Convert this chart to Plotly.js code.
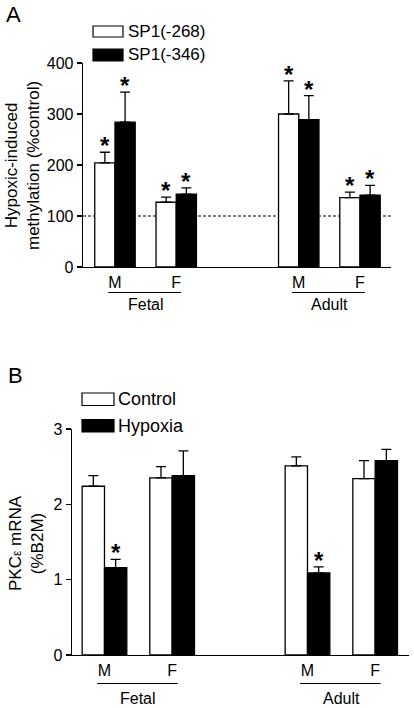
<!DOCTYPE html>
<html>
<head>
<meta charset="utf-8">
<script src="https://cdn.plot.ly/plotly-3.0.1.min.js"></script>
<style>html,body{margin:0;padding:0;background:#fff;}#chart{width:414px;height:708px;}</style>
</head>
<body>
<div id="chart"></div>
<script>
// ---- data ----
var positions = [0, 1, 3, 4];
var sexLabels = ['M', 'F', 'M', 'F'];
var groupLabels = ['Fetal', 'Adult'];

// Panel A: hypoxic-induced methylation (%control)
var seriesA = ['SP1(-268)', 'SP1(-346)'];
var sp268 = [204, 127, 300, 136];
var sp268Err = [21, 10, 65, 11];
var sp346 = [284, 143, 289, 141];
var sp346Err = [59, 12, 47, 19];
var sigA268 = [true, true, true, true];
var sigA346 = [true, true, true, true];
var refLineA = 100;

// Panel B: PKCe mRNA (%B2M)
var seriesB = ['Control', 'Hypoxia'];
var control = [2.24, 2.35, 2.51, 2.34];
var controlErr = [0.14, 0.15, 0.12, 0.24];
var hypoxia = [1.16, 2.38, 1.09, 2.58];
var hypoxiaErr = [0.11, 0.33, 0.08, 0.15];
var sigCtrl = [false, false, false, false];
var sigHyp = [true, false, true, false];

// ---- helpers ----
var W = 414, H = 708;
function px(x) { return x / W; }
function py(y) { return 1 - y / H; }
var FONT = 'Liberation Sans, Arial, Helvetica, sans-serif';
var BW = 0.33;

function zeros(a) { return a.map(function () { return 0; }); }
function barTrace(name, y, err, white, xa, ya, offset) {
  return {
    type: 'bar', name: name, x: positions, y: y, xaxis: xa, yaxis: ya,
    width: BW, offset: offset,
    marker: { color: white ? '#ffffff' : '#000000', line: { color: '#000', width: 1.3 } },
    error_y: { type: 'data', symmetric: false, array: err, arrayminus: zeros(err),
               color: '#000', thickness: 1.3, width: 5 },
    showlegend: false, hoverinfo: 'skip'
  };
}

var data = [
  barTrace(seriesA[0], sp268, sp268Err, true, 'x', 'y', -BW),
  barTrace(seriesA[1], sp346, sp346Err, false, 'x', 'y', 0),
  barTrace(seriesB[0], control, controlErr, true, 'x2', 'y2', -BW),
  barTrace(seriesB[1], hypoxia, hypoxiaErr, false, 'x2', 'y2', 0)
];

var annotations = [];
var shapes = [];

function stars(vals, errs, sig, dx, xr, yr) {
  for (var i = 0; i < vals.length; i++) {
    if (!sig[i]) continue;
    annotations.push({ x: positions[i] + dx, y: vals[i] + errs[i], xref: xr, yref: yr,
      text: '<b>*</b>', showarrow: false, yanchor: 'bottom', xanchor: 'center', yshift: -9,
      font: { family: FONT, size: 24, color: '#000' } });
  }
}
stars(sp268, sp268Err, sigA268, -BW / 2, 'x', 'y');
stars(sp346, sp346Err, sigA346, BW / 2, 'x', 'y');
stars(control, controlErr, sigCtrl, -BW / 2, 'x2', 'y2');
stars(hypoxia, hypoxiaErr, sigHyp, BW / 2, 'x2', 'y2');

// group brackets + labels
function groups(xr, lineY, labelY) {
  for (var g = 0; g < groupLabels.length; g++) {
    var a = positions[2 * g], b = positions[2 * g + 1];
    shapes.push({ type: 'line', xref: xr, yref: 'paper', x0: a - 0.11, x1: b + 0.08,
      y0: py(lineY), y1: py(lineY), line: { color: '#000', width: 1.2 } });
    annotations.push({ x: (a + b) / 2, y: py(labelY), xref: xr, yref: 'paper', text: groupLabels[g],
      showarrow: false, xanchor: 'center', yanchor: 'middle', font: { family: FONT, size: 16, color: '#000' } });
  }
}
groups('x', 292.5, 304);
groups('x2', 683.5, 698);

// legends
function legend(names, x0, x1, boxes, textX, fs) {
  for (var i = 0; i < names.length; i++) {
    var b = boxes[i];
    shapes.push({ type: 'rect', xref: 'paper', yref: 'paper', x0: px(x0), x1: px(x1),
      y0: py(b[1]), y1: py(b[0]), fillcolor: i === 0 ? '#fff' : '#000', line: { color: '#000', width: 1.2 } });
    annotations.push({ x: px(textX), y: py((b[0] + b[1]) / 2), xref: 'paper', yref: 'paper',
      text: names[i], showarrow: false, xanchor: 'left', yanchor: 'middle',
      font: { family: FONT, size: fs, color: '#000' } });
  }
}
legend(seriesA, 93, 123, [[26, 37], [49, 61]], 126, 17);
legend(seriesB, 82, 114, [[393, 405.5], [419.5, 432]], 116, 18);

// reference line (drawn beneath the bars)
shapes.push({ type: 'line', layer: 'below', xref: 'x domain', yref: 'y', x0: 0, x1: 1, y0: refLineA, y1: refLineA,
  line: { color: '#000', width: 1.1, dash: '3px,2px' } });

// y titles and panel letters
annotations.push({ x: px(22), y: py(166), xref: 'paper', yref: 'paper', textangle: -90,
  xanchor: 'center', yanchor: 'middle',
  text: 'Hypoxic-induced<br>methylation (%control)', showarrow: false,
  font: { family: FONT, size: 17, color: '#000' } });
annotations.push({ x: px(26), y: py(543), xref: 'paper', yref: 'paper', textangle: -90,
  xanchor: 'center', yanchor: 'middle',
  text: 'PKC<span style="font-size:12px">ε</span> mRNA<br>(%B2M)', showarrow: false,
  font: { family: FONT, size: 17, color: '#000' } });
annotations.push({ x: px(4), y: py(15), xref: 'paper', yref: 'paper', text: 'A', showarrow: false,
  xanchor: 'left', yanchor: 'middle', font: { family: FONT, size: 22, color: '#000' } });
annotations.push({ x: px(6), y: py(375), xref: 'paper', yref: 'paper', text: 'B', showarrow: false,
  xanchor: 'left', yanchor: 'middle', font: { family: FONT, size: 22, color: '#000' } });

var xCommon = { tickmode: 'array', tickvals: positions, ticktext: sexLabels, ticks: '',
  showline: true, linecolor: '#000', linewidth: 1.3, showgrid: false, zeroline: false,
  tickfont: { family: FONT, size: 16, color: '#000' }, fixedrange: true };
var yCommon = { ticks: 'outside', ticklen: 5, tickwidth: 1.3, tickcolor: '#000',
  showline: true, linecolor: '#000', linewidth: 1.3, showgrid: false, zeroline: false,
  tickfont: { family: FONT, size: 16, color: '#000' }, fixedrange: true };

var layout = {
  width: W, height: H, margin: { l: 0, r: 0, t: 0, b: 0 },
  paper_bgcolor: '#fff', plot_bgcolor: 'rgba(0,0,0,0)', showlegend: false,
  barmode: 'overlay',
  xaxis: Object.assign({}, xCommon, { domain: [px(83), px(391)], range: [-0.522, 4.506], anchor: 'y' }),
  yaxis: Object.assign({}, yCommon, { domain: [py(267), py(63)], range: [0, 400], tickvals: [0, 100, 200, 300, 400], anchor: 'x' }),
  xaxis2: Object.assign({}, xCommon, { domain: [px(72), px(409)], range: [-0.48, 4.50], anchor: 'y2' }),
  yaxis2: Object.assign({}, yCommon, { domain: [py(655), py(429)], range: [0, 3], tickvals: [0, 1, 2, 3], anchor: 'x2' }),
  shapes: shapes, annotations: annotations
};

Plotly.newPlot('chart', data, layout, { displayModeBar: false, staticPlot: true });
</script>
</body>
</html>
